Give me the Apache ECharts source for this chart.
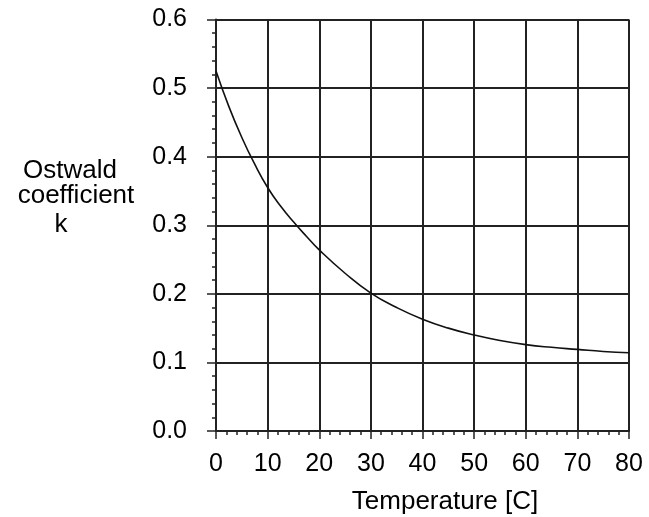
<!DOCTYPE html>
<html><head><meta charset="utf-8">
<script src="https://cdn.jsdelivr.net/npm/echarts@6/dist/echarts.min.js"></script>
<style>html,body{margin:0;padding:0;background:#fff}#c{width:649px;height:517px}</style>
</head><body><div id="c"></div>
<script>
const temperatures = [0, 2.5, 5, 7.5, 10, 12.5, 15, 17.5, 20, 25, 30, 35, 40, 45, 50, 55, 60, 65, 70, 75, 80];
const kValues = [0.525, 0.473, 0.428, 0.389, 0.355, 0.328, 0.305, 0.284, 0.264, 0.230, 0.201, 0.180, 0.163, 0.150, 0.140, 0.132, 0.126, 0.122, 0.119, 0.116, 0.114];
const xTicks = [0, 10, 20, 30, 40, 50, 60, 70, 80];
const yTicks = [0.0, 0.1, 0.2, 0.3, 0.4, 0.5, 0.6];
const yNameLines = ['Ostwald', 'coefficient', 'k'];
const xName = 'Temperature [C]';

const font = 'Liberation Sans, Arial, sans-serif';
const chart = echarts.init(document.getElementById('c'));
chart.setOption({
  animation: false,
  grid: {left: 216, right: 20, top: 19.5, bottom: 86},
  xAxis: {
    type: 'value', min: xTicks[0], max: xTicks[xTicks.length - 1], interval: 10,
    axisLine: {show: true, lineStyle: {color: '#222', width: 2}},
    axisTick: {show: true, inside: false, length: 8, lineStyle: {color: '#222', width: 1.5}},
    minorTick: {show: true, splitNumber: 5, length: 4, lineStyle: {color: '#222', width: 1.5}},
    splitLine: {show: true, lineStyle: {color: '#222', width: 2}},
    axisLabel: {color: '#000', fontFamily: font, fontSize: 25, margin: 21,
      formatter: v => xTicks.includes(v) ? String(v) : ''}
  },
  yAxis: {
    type: 'value', min: yTicks[0], max: yTicks[yTicks.length - 1], interval: 0.1,
    axisLine: {show: true, lineStyle: {color: '#222', width: 2}},
    axisTick: {show: true, inside: false, length: 9, lineStyle: {color: '#222', width: 1.5}},
    minorTick: {show: true, splitNumber: 5, length: 4, lineStyle: {color: '#222', width: 1.5}},
    splitLine: {show: true, lineStyle: {color: '#222', width: 2}},
    axisLabel: {color: '#000', fontFamily: font, fontSize: 25, margin: 29,
      formatter: v => v.toFixed(1)}
  },
  graphic: [
    {type: 'text', style: {text: yNameLines[0], x: 70, y: 171, align: 'center', verticalAlign: 'middle', font: '26px ' + font, fill: '#000'}},
    {type: 'text', style: {text: yNameLines[1], x: 76, y: 196, align: 'center', verticalAlign: 'middle', font: '26px ' + font, fill: '#000'}},
    {type: 'text', style: {text: yNameLines[2], x: 61, y: 225, align: 'center', verticalAlign: 'middle', font: '26px ' + font, fill: '#000'}},
    {type: 'text', style: {text: xName, x: 445, y: 502, align: 'center', verticalAlign: 'middle', font: '26px ' + font, fill: '#000'}}
  ],
  series: [{
    type: 'line', smooth: true, symbol: 'none',
    data: temperatures.map((t, i) => [t, kValues[i]]),
    lineStyle: {color: '#111', width: 1.6}
  }]
});
</script></body></html>
